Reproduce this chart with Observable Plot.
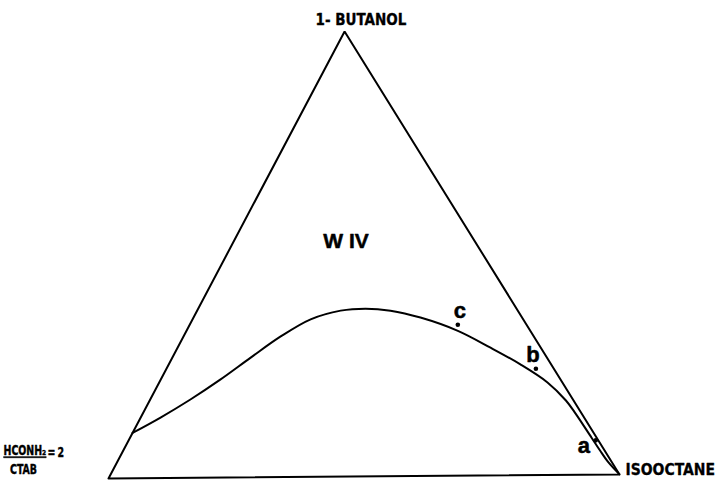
<!DOCTYPE html>
<html>
<head>
<meta charset="utf-8">
<script src="https://cdn.jsdelivr.net/npm/d3@7"></script>
<script src="https://cdn.jsdelivr.net/npm/@observablehq/plot@0.6"></script>
<style>
  html, body { margin: 0; padding: 0; background: #fff; }
  #chart svg { display: block; }
</style>
</head>
<body>
<div id="chart"></div>
<script>
// Boundary of the W IV region, in weight %; the remainder is the HCONH2/CTAB (=2) pseudo-component.
const boundaryButanol   = [10.2, 13.6, 17.6, 22.0, 26.9, 31.6, 35.4, 37.3, 37.7, 37.2, 35.6, 32.6, 28.7, 24.9, 20.8, 16.7, 13.8, 8.3, 5.4, 2.7, 0.0];
const boundaryIsooctane = [ 0.0,  3.9,  7.9, 11.7, 15.4, 19.1, 23.2, 28.2, 32.9, 38.0, 44.6, 53.2, 61.5, 69.1, 76.3, 81.8, 85.0, 90.7, 93.7, 96.6, 100.0];

// Compositions studied
const sampleNames     = ["a", "b", "c"];
const sampleButanol   = [7.7, 23.9, 33.9];
const sampleIsooctane = [91.8, 72.6, 52.7];

// Pure components at the triangle corners (butanol %, isooctane %)
const cornerButanol   = [0, 0, 100, 0];
const cornerIsooctane = [0, 100, 0, 0];

// Drawing frame of the triangle: where the butanol and isooctane corners sit
const apex  = {x: 46.2, y: 87.5};
const right = {x: 100,  y: 0.8};

function project(butanol, isooctane) {
  const b = butanol / 100, i = isooctane / 100;
  return {x: right.x * i + apex.x * b, y: right.y * i + apex.y * b};
}

const edges    = cornerButanol.map((b, k) => project(b, cornerIsooctane[k]));
const boundary = boundaryButanol.map((b, k) => project(b, boundaryIsooctane[k]));
const samples  = sampleNames.map((name, k) => ({name, ...project(sampleButanol[k], sampleIsooctane[k])}));
const [leftCorner, isoCorner, butCorner] = edges;

const bold = "DejaVu Sans Condensed, DejaVu Sans, sans-serif";
const letter = "Liberation Sans, Arial, sans-serif";
const heavy = {fontWeight: "bold", fill: "#000", stroke: "#000", strokeWidth: 0.5};

const chart = Plot.plot({
  width: 719,
  height: 495,
  marginLeft: 108,
  marginRight: 100,
  marginTop: 31,
  marginBottom: 17,
  x: {domain: [0, 100], axis: null},
  y: {domain: [0, apex.y], axis: null},
  style: {background: "#fff", color: "#000"},
  marks: [
    Plot.line(edges, {x: "x", y: "y", stroke: "#000", strokeWidth: 2, strokeLinejoin: "miter"}),
    Plot.line(boundary, {x: "x", y: "y", stroke: "#000", strokeWidth: 2, curve: "catmull-rom"}),
    Plot.dot(samples, {x: "x", y: "y", r: 2.3, fill: "#000", stroke: "none"}),
    // sample letters
    Plot.text(samples.filter(d => d.name === "c"), {x: "x", y: "y", text: "name", dx: 2, dy: -14, fontSize: 22, fontFamily: letter, ...heavy}),
    Plot.text(samples.filter(d => d.name === "b"), {x: "x", y: "y", text: "name", dx: -3, dy: -14, fontSize: 22, fontFamily: letter, ...heavy}),
    Plot.text(samples.filter(d => d.name === "a"), {x: "x", y: "y", text: "name", dx: -12, dy: 6, fontSize: 22, fontFamily: letter, ...heavy}),
    // region label
    Plot.text(["W IV"], {x: 46.5, y: 46.5, text: d => d, fontSize: 21, fontFamily: letter, ...heavy}),
    // corner labels
    Plot.text(["1- BUTANOL"], {x: butCorner.x, y: butCorner.y, text: d => d, dx: -29, dy: -11, textAnchor: "start", fontSize: 15, fontFamily: bold, ...heavy, strokeWidth: 0.3}),
    Plot.text(["ISOOCTANE"], {x: isoCorner.x, y: isoCorner.y, text: d => d, dx: 6, dy: -4, textAnchor: "start", fontSize: 15.5, fontFamily: bold, ...heavy, strokeWidth: 0.3}),
    Plot.text(["HCONH\u2082"], {x: leftCorner.x, y: leftCorner.y, text: d => d, dx: -105, dy: -27.5, textAnchor: "start", fontSize: 10.5, fontFamily: bold, ...heavy, strokeWidth: 0.3}),
    Plot.text(["CTAB"], {x: leftCorner.x, y: leftCorner.y, text: d => d, dx: -85, dy: -8.5, fontSize: 10.5, fontFamily: bold, ...heavy, strokeWidth: 0.3}),
    Plot.text(["= 2"], {x: leftCorner.x, y: leftCorner.y, text: d => d, dx: -61, dy: -25.5, textAnchor: "start", fontSize: 10.5, fontFamily: bold, ...heavy, strokeWidth: 0.3})
  ]
});

// tall, narrow lettering of the pseudo-component label; fraction bar under the numerator
const stretched = ["HCONH\u2082", "CTAB", "= 2"];
d3.select(chart).selectAll("text")
  .filter(function() { return stretched.includes(this.textContent); })
  .each(function() {
    const t = d3.select(this);
    if (this.textContent.startsWith("HCONH")) t.attr("text-decoration", "underline");
    if (this.textContent === "= 2") t.attr("letter-spacing", "-0.6");
    const tr = t.attr("transform");
    if (tr) {
      t.attr("transform", tr + " scale(1,1.3)");
    } else {
      const x = +t.attr("x") || 0, y = +t.attr("y") || 0;
      t.attr("x", null).attr("y", null).attr("transform", `translate(${x},${y}) scale(1,1.3)`);
    }
  });

document.getElementById("chart").append(chart);
</script>
</body>
</html>
